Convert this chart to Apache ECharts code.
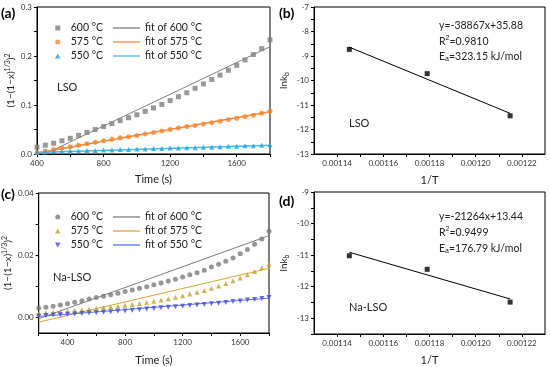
<!DOCTYPE html>
<html><head><meta charset="utf-8">
<script src="https://cdn.jsdelivr.net/npm/echarts@6/dist/echarts.min.js"></script>
<style>html,body{margin:0;padding:0;background:#fff}#c{width:550px;height:367px}</style>
</head><body><div id="c"></div>
<script>
// ---------- data ----------
const timeA = [400,450,500,550,600,650,700,750,800,850,900,950,1000,1050,1100,1150,1200,1250,1300,1350,1400,1450,1500,1550,1600,1650,1700,1750,1800];
const lso600 = [0.014,0.018,0.022,0.027,0.032,0.038,0.044,0.050,0.056,0.062,0.068,0.074,0.080,0.087,0.094,0.101,0.109,0.117,0.125,0.134,0.143,0.152,0.161,0.171,0.181,0.192,0.203,0.215,0.233];
const lso575 = [0.003,0.006,0.009,0.012,0.015,0.018,0.021,0.024,0.027,0.030,0.033,0.035,0.038,0.041,0.044,0.047,0.050,0.053,0.056,0.058,0.061,0.064,0.067,0.070,0.073,0.076,0.079,0.083,0.087];
const lso550 = [0.003,0.004,0.005,0.005,0.006,0.006,0.007,0.007,0.008,0.008,0.009,0.009,0.010,0.010,0.011,0.011,0.012,0.012,0.013,0.013,0.014,0.014,0.015,0.016,0.016,0.017,0.017,0.018,0.019];
const lsoFitT = [400,1800];
const lsoFit600 = [-0.0075,0.219];
const lsoFit575 = [0.002,0.086];
const lsoFit550 = [0.003,0.018];

const timeC = [200,250,300,350,400,450,500,550,600,650,700,750,800,850,900,950,1000,1050,1100,1150,1200,1250,1300,1350,1400,1450,1500,1550,1600,1650,1700,1750,1800];
const na600 = [0.0030,0.0033,0.0036,0.0040,0.0044,0.0049,0.0054,0.0059,0.0064,0.0068,0.0073,0.0078,0.0083,0.0088,0.0094,0.0099,0.0105,0.0111,0.0117,0.0123,0.0130,0.0137,0.0144,0.0152,0.0162,0.0171,0.0181,0.0191,0.0205,0.0218,0.0235,0.0252,0.0277];
const na575 = [0.0013,0.0015,0.0017,0.0019,0.0021,0.0023,0.0025,0.0027,0.0029,0.0032,0.0034,0.0036,0.0039,0.0042,0.0045,0.0048,0.0052,0.0056,0.0060,0.0065,0.0070,0.0075,0.0081,0.0087,0.0094,0.0101,0.0109,0.0118,0.0127,0.0137,0.0148,0.0160,0.0172];
const na550 = [0.0005,0.0006,0.0008,0.0009,0.0010,0.0011,0.0013,0.0014,0.0015,0.0017,0.0018,0.0020,0.0021,0.0023,0.0025,0.0027,0.0029,0.0031,0.0033,0.0034,0.0036,0.0038,0.0040,0.0042,0.0044,0.0046,0.0048,0.0051,0.0053,0.0056,0.0058,0.0061,0.0064];
const naFitT = [200,1800];
const naFit600 = [-0.0004,0.0263];
const naFit575 = [-0.0015,0.0158];
const naFit550 = [0.0003,0.0062];

const invT = [0.0011453,0.0011790,0.0012149];
const lnkLSO = [-8.73,-9.72,-11.44];
const lnkNa = [-11.02,-11.45,-12.49];
const arrFitX = [0.0011453,0.0012149];
const lsoArrFit = [-8.64,-11.34];
const naArrFit = [-10.91,-12.39];

// tick labels / tick positions
const aXLabels = [400,800,1200,1600];
const aXTicks = [400,600,800,1000,1200,1400,1600,1800];
const aYLabels = [0,0.1,0.2,0.3];
const aYTicks = [0,0.05,0.1,0.15,0.2,0.25,0.3];
const cXLabels = [400,800,1200,1600];
const cXTicks = [200,400,600,800,1000,1200,1400,1600,1800];
const cYLabels = [0,0.02,0.04];
const cYTicks = [0,0.01,0.02,0.03,0.04];
const bXLabels = [0.00114,0.00116,0.00118,0.00120,0.00122];
const bXTicks = [0.00114,0.00115,0.00116,0.00117,0.00118,0.00119,0.00120,0.00121,0.00122];
const bYLabels = [-13,-12,-11,-10,-9,-8,-7];
const bYTicks = [-13,-12.5,-12,-11.5,-11,-10.5,-10,-9.5,-9,-8.5,-8,-7.5,-7];
const dYLabels = [-13,-12,-11,-10,-9];
const dYTicks = [-13.5,-13,-12.5,-12,-11.5,-11,-10.5,-10,-9.5,-9];

// ---------- chart ----------
const FF = 'Lato, "Open Sans", sans-serif';
const zip = (xs, ys) => xs.map((x, i) => [x, ys[i]]);

function axis(gi, min, max, labels, ticks, dec, extra) {
  return Object.assign({
    gridIndex: gi, type: 'value', min: min, max: max,
    axisLine: { show: true, onZero: false, lineStyle: { color: '#000', width: 1 } },
    axisTick: { show: true, length: 3, customValues: ticks, lineStyle: { color: '#000' } },
    axisLabel: { customValues: labels, fontSize: 8, color: '#333', fontFamily: FF, margin: 5,
      formatter: v => dec === null ? String(v) : Number(v).toFixed(dec) },
    splitLine: { show: false }
  }, extra || {});
}
const nameStyle = { fontSize: 11, color: '#222', fontFamily: FF };
const yNameRich = {
  fontSize: 10, color: '#222', fontFamily: FF, lineHeight: 13,
  rich: { s: { fontSize: 7, verticalAlign: 'top', lineHeight: 13, fontFamily: FF, color: '#222' },
          b: { fontSize: 7, verticalAlign: 'bottom', lineHeight: 13, fontFamily: FF, color: '#222' } }
};

const C = { g: '#7f7f7f', o: '#f7832b', ol: '#f98a3a', b: '#1fa0e0', bl: '#45bbef',
            g2: '#7c7c7c', y: '#c0a22a', yl: '#d9a630', v: '#4747e0', vl: '#5575ff' };

function scat(name, xi, yi, xs, ys, sym, color, rot) {
  return { name: name, type: 'scatter', xAxisIndex: xi, yAxisIndex: yi, data: zip(xs, ys),
    symbol: sym, symbolSize: 5, symbolRotate: rot || 0, itemStyle: { color: color }, z: 3 };
}
function fit(name, xi, yi, xs, ys, color, w) {
  return { name: name, type: 'line', xAxisIndex: xi, yAxisIndex: yi, data: zip(xs, ys),
    showSymbol: false, symbol: 'none', clip: true, lineStyle: { color: color, width: w || 1.2 },
    itemStyle: { color: color }, z: 2 };
}

const Z = '\u200b';
const legText = { fontSize: 10.5, color: '#222', fontFamily: FF, lineHeight: 14 };
const ICON = {
  sq: 'path://M0,0L10,0L10,10L0,10Z',
  ci: 'circle',
  up: 'path://M5,0L10,9L0,9Z',
  dn: 'path://M0,0L10,0L5,9Z',
  ln: 'path://M0,0L27,0L27,1.3L0,1.3Z'
};
const li = (name, icon) => ({ name: name, icon: icon });

const option = {
  animation: false,
  backgroundColor: '#fff',
  grid: [
    { left: 37, top: 7, width: 233, height: 147, show: true, borderColor: '#000', borderWidth: 1 },
    { left: 314, top: 7, width: 231, height: 147, show: true, borderColor: '#000', borderWidth: 1 },
    { left: 37, top: 193, width: 232, height: 144, show: true, borderColor: '#000', borderWidth: 1 },
    { left: 314, top: 192, width: 231, height: 147, show: true, borderColor: '#000', borderWidth: 1 }
  ],
  xAxis: [
    axis(0, 400, 1800, aXLabels, aXTicks, null, { name: 'Time (s)', nameLocation: 'middle', nameGap: 20, nameTextStyle: nameStyle }),
    axis(1, 0.00113, 0.00123, bXLabels, bXTicks, 5, { name: '1/T', nameLocation: 'middle', nameGap: 21, nameTextStyle: nameStyle }),
    axis(2, 200, 1800, cXLabels, cXTicks, null, { name: 'Time (s)', nameLocation: 'middle', nameGap: 22, nameTextStyle: nameStyle }),
    axis(3, 0.00113, 0.00123, bXLabels, bXTicks, 5, { name: '1/T', nameLocation: 'middle', nameGap: 21, nameTextStyle: nameStyle })
  ],
  yAxis: [
    axis(0, 0, 0.3, aYLabels, aYTicks, 1, { name: '(1−(1−x){s|1/3}){s|2}', nameLocation: 'middle', nameGap: 13, nameTextStyle: yNameRich }),
    axis(1, -13, -7, bYLabels, bYTicks, null, { name: 'lnk{b|b}', nameLocation: 'middle', nameGap: 24, nameTextStyle: yNameRich }),
    axis(2, -0.005, 0.04, cYLabels, cYTicks, 2, { name: '(1−(1−x){s|1/3}){s|2}', nameLocation: 'middle', nameGap: 16, nameTextStyle: yNameRich }),
    axis(3, -13.5, -9, dYLabels, dYTicks, null, { name: 'lnk{b|b}', nameLocation: 'middle', nameGap: 24, nameTextStyle: yNameRich })
  ],
  legend: [
    { data: [li('600 °C', ICON.sq), li('575 °C', ICON.ci), li('550 °C', ICON.up)], orient: 'vertical', left: 50, top: 16, itemWidth: 16, itemHeight: 5, itemGap: 0, symbolKeepAspect: true, textStyle: legText, selectedMode: false },
    { data: [li('fit of 600 °C', ICON.ln), li('fit of 575 °C', ICON.ln), li('fit of 550 °C', ICON.ln)], orient: 'vertical', left: 108, top: 16, itemWidth: 27, itemHeight: 6, itemGap: 0, symbolKeepAspect: true, textStyle: legText, selectedMode: false },
    { data: [li('600 °C' + Z, ICON.ci), li('575 °C' + Z, ICON.up), li('550 °C' + Z, ICON.dn)], orient: 'vertical', left: 50, top: 205, itemWidth: 16, itemHeight: 5, itemGap: 0, symbolKeepAspect: true, textStyle: legText, selectedMode: false },
    { data: [li('fit of 600 °C' + Z, ICON.ln), li('fit of 575 °C' + Z, ICON.ln), li('fit of 550 °C' + Z, ICON.ln)], orient: 'vertical', left: 108, top: 205, itemWidth: 27, itemHeight: 6, itemGap: 0, symbolKeepAspect: true, textStyle: legText, selectedMode: false }
  ],
  series: [
    fit('fit of 600 °C', 0, 0, lsoFitT, lsoFit600, C.g, 1),
    fit('fit of 575 °C', 0, 0, lsoFitT, lsoFit575, C.ol, 1.5),
    fit('fit of 550 °C', 0, 0, lsoFitT, lsoFit550, C.bl, 1.5),
    scat('600 °C', 0, 0, timeA, lso600, 'rect', C.g),
    scat('575 °C', 0, 0, timeA, lso575, 'circle', C.o),
    scat('550 °C', 0, 0, timeA, lso550, 'triangle', C.b),

    fit('lsoArr', 1, 1, arrFitX, lsoArrFit, '#000', 1),
    scat('lsoArrPts', 1, 1, invT, lnkLSO, 'rect', '#000'),

    fit('fit of 600 °C' + Z, 2, 2, naFitT, naFit600, C.g2, 1),
    fit('fit of 575 °C' + Z, 2, 2, naFitT, naFit575, C.yl, 1),
    fit('fit of 550 °C' + Z, 2, 2, naFitT, naFit550, C.vl, 1),
    scat('600 °C' + Z, 2, 2, timeC, na600, 'circle', C.g2),
    scat('575 °C' + Z, 2, 2, timeC, na575, 'triangle', C.y),
    scat('550 °C' + Z, 2, 2, timeC, na550, 'triangle', C.v, 180),

    fit('naArr', 3, 3, arrFitX, naArrFit, '#000', 1),
    scat('naArrPts', 3, 3, invT, lnkNa, 'rect', '#000')
  ],
  graphic: [
    { type: 'text', left: 1, top: 6, style: { text: '(a)', font: 'bold 14px ' + FF, fill: '#000' } },
    { type: 'text', left: 279, top: 6, style: { text: '(b)', font: 'bold 14px ' + FF, fill: '#000' } },
    { type: 'text', left: 1, top: 187, style: { text: '(c)', font: 'bold 14px ' + FF, fill: '#000' } },
    { type: 'text', left: 279, top: 194, style: { text: '(d)', font: 'bold 14px ' + FF, fill: '#000' } },
    { type: 'text', left: 57, top: 82, style: { text: 'LSO', font: '11px ' + FF, fill: '#222' } },
    { type: 'text', left: 349, top: 118, style: { text: 'LSO', font: '11px ' + FF, fill: '#222' } },
    { type: 'text', left: 53, top: 272, style: { text: 'Na-LSO', font: '11px ' + FF, fill: '#222' } },
    { type: 'text', left: 349, top: 302, style: { text: 'Na-LSO', font: '11px ' + FF, fill: '#222' } },
    { type: 'text', left: 439, top: 20, style: { text: 'y=-38867x+35.88', font: '10.5px ' + FF, fill: '#222' } },
    { type: 'text', left: 439, top: 35, style: { text: 'R{s|2}=0.9810', fontSize: 10.5, fontFamily: FF, fill: '#222', rich: { s: { fontSize: 7, verticalAlign: 'top', lineHeight: 13, fill: '#222' } } } },
    { type: 'text', left: 439, top: 51, style: { text: 'E{b|a}=323.15 kJ/mol', fontSize: 10.5, fontFamily: FF, fill: '#222', rich: { b: { fontSize: 7, verticalAlign: 'bottom', lineHeight: 13, fill: '#222' } } } },
    { type: 'text', left: 439, top: 211, style: { text: 'y=-21264x+13.44', font: '10.5px ' + FF, fill: '#222' } },
    { type: 'text', left: 439, top: 226, style: { text: 'R{s|2}=0.9499', fontSize: 10.5, fontFamily: FF, fill: '#222', rich: { s: { fontSize: 7, verticalAlign: 'top', lineHeight: 13, fill: '#222' } } } },
    { type: 'text', left: 439, top: 243, style: { text: 'E{b|a}=176.79 kJ/mol', fontSize: 10.5, fontFamily: FF, fill: '#222', rich: { b: { fontSize: 7, verticalAlign: 'bottom', lineHeight: 13, fill: '#222' } } } }
  ]
};
const chart = echarts.init(document.getElementById('c'), null, { renderer: 'canvas' });
chart.setOption(option);
</script></body></html>
